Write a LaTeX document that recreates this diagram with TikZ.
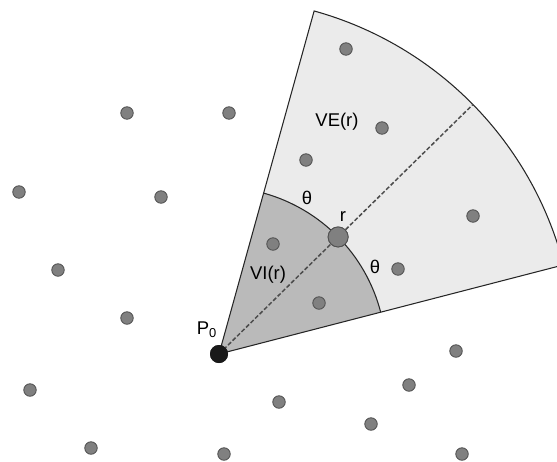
\documentclass[tikz,border=0pt]{standalone}
\usepackage{fontspec}
\setmainfont{Liberation Sans}
\begin{document}
\begin{tikzpicture}[x=0.02cm, y=0.02cm, font=\fontsize{10.5}{12}\selectfont,
          dot/.style={circle, draw=black!68, fill=black!50, line width=0.5pt, minimum size=0.25cm, inner sep=0pt},
          bigdot/.style={dot, minimum size=0.4cm},
          origin/.style={circle, fill=black!90, minimum size=0.36cm, inner sep=0pt},
          edge/.style={black!85, line width=0.6pt},
          axis/.style={black!70, dash pattern=on 2.4pt off 1.2pt, line width=0.85pt}]
        \useasboundingbox (0,0) rectangle (557,461);
        \clip (0,0) rectangle (557,461);
        \coordinate (c) at (219,107);
        \fill[black!8] (c) -- ++(14.5:356) arc[start angle=14.5, end angle=74.5, radius=356] -- cycle;
        \fill[black!27] (c) -- ++(14.5:167) arc[start angle=14.5, end angle=74.5, radius=167] -- cycle;
        \draw[edge] (c) ++(14.5:167) arc[start angle=14.5, end angle=74.5, radius=167];
        \draw[edge] (c) -- ++(14.5:356) arc[start angle=14.5, end angle=74.5, radius=356] -- cycle;
        \path (c) ++(44.5:356) coordinate (tip);
        \path (c) ++(44.5:167) node[bigdot] (r) {};
        \node[origin] (P0) at (c) {};
        \draw[axis] (P0.center) -- (r);
        \draw[axis] (r) -- (tip);
        \node[dot] (d1) at (346,412) {};  \node[dot] (d2) at (127,348) {};  \node[dot] (d3) at (229,348) {};
        \node[dot] (d4) at (382,333) {};  \node[dot] (d5) at (306,301) {};  \node[dot] (d6) at (19,269) {};
        \node[dot] (d7) at (161,264) {};  \node[dot] (d8) at (473,245) {};  \node[dot] (d9) at (273,217) {};
        \node[dot] (d10) at (398,192) {}; \node[dot] (d11) at (58,191) {};  \node[dot] (d12) at (319,158) {};
        \node[dot] (d13) at (127,143) {}; \node[dot] (d14) at (456,110) {}; \node[dot] (d15) at (409,76) {};
        \node[dot] (d16) at (30,71) {};   \node[dot] (d17) at (279,59) {};  \node[dot] (d18) at (371,37) {};
        \node[dot] (d19) at (91,13) {};   \node[dot] (d20) at (224,7) {};   \node[dot] (d21) at (462,7) {};
        \node[bigdot] at (r) {};
        \node[origin] at (P0) {};
        \node (ve) at (337,339) {VE(r)};
        \node (vi) at (268,186) {VI(r)};
        \node (th1) at (307,263) {θ};
        \node (th2) at (375,194) {θ};
        \node (rl) at (343,244) {r};
        \node (pl) at (207,131) {P\textsubscript{0}};
      \end{tikzpicture}
\end{document}
